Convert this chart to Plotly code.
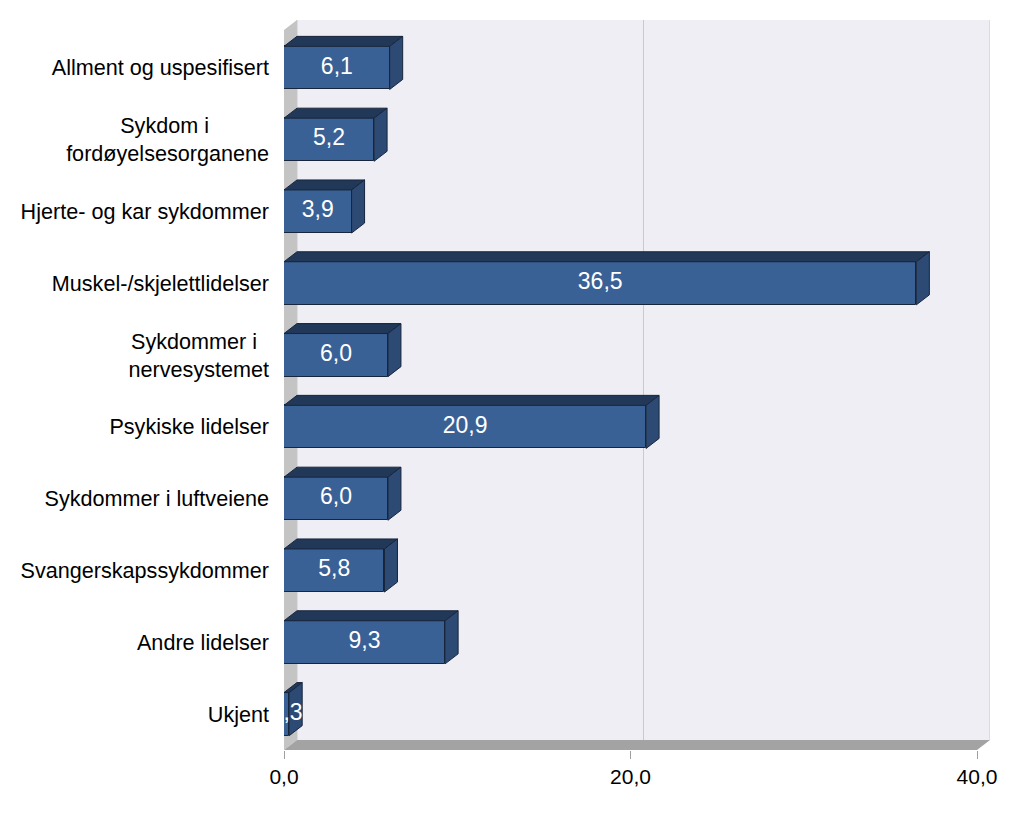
import plotly.graph_objects as go

# ---- data ----
categories = [
    "Allment og uspesifisert",
    "Sykdom i<br>fordøyelsesorganene",
    "Hjerte- og kar sykdommer",
    "Muskel-/skjelettlidelser",
    "Sykdommer i<br>nervesystemet",
    "Psykiske lidelser",
    "Sykdommer i luftveiene",
    "Svangerskapssykdommer",
    "Andre lidelser",
    "Ukjent",
]
values = [6.1, 5.2, 3.9, 36.5, 6.0, 20.9, 6.0, 5.8, 9.3, 0.3]
value_labels = ["6,1", "5,2", "3,9", "36,5", "6,0", "20,9", "6,0", "5,8", "9,3", "0,3"]
x_tickvals = [0, 20, 40]
x_ticktext = ["0,0", "20,0", "40,0"]

# ---- geometry / styling ----
# page has an 8px body margin, so the figure is drawn 8px smaller and offset
W, H = 1016, 813
ML, MR, MT, MB = 276, 34, 12, 71
XMAX_FRONT = 40
px_per_x = 693 / 40.0
plot_w = W - ML - MR
plot_h = H - MT - MB
px_per_y = 71.8
XR = [0, plot_w / px_per_x]
Y_BOTTOM = len(categories) - 0.5
Y_TOP = Y_BOTTOM - plot_h / px_per_y
DX = 13 / px_per_x
DY = 10 / px_per_y
BW = 0.6

FONT = "Arial, Liberation Sans, sans-serif"
FRONT = "#3A6195"
TOP = "#213858"
SIDE = "#2D4A74"
EDGE = "#18263C"
WALL = "#EEEEF4"
SIDEWALL = "#C4C4C4"
FLOOR = "#A3A3A3"
GRID = "#C9C9D0"

n = len(categories)
ypos = list(range(n))

# tick text: pad first line of wrapped labels so the two lines appear centred
pad = {1: 10, 4: 2}
ticktext = []
for i, c in enumerate(categories):
    if "<br>" in c and i in pad:
        a, b = c.split("<br>")
        c = a + "\u00a0" * pad[i] + "<br>" + b
    ticktext.append(c)

fig = go.Figure()

# front faces
fig.add_trace(go.Bar(
    x=values, y=ypos, orientation="h", width=BW,
    marker=dict(color=FRONT, line=dict(color=EDGE, width=1)),
    hoverinfo="skip", showlegend=False,
))

# top and side faces
for i, v in enumerate(values):
    y0 = i - BW / 2
    y1 = i + BW / 2
    fig.add_trace(go.Scatter(
        x=[0, DX, v + DX, v, 0], y=[y0, y0 - DY, y0 - DY, y0, y0],
        fill="toself", fillcolor=TOP, mode="lines",
        line=dict(color=EDGE, width=1), hoverinfo="skip", showlegend=False,
    ))
    fig.add_trace(go.Scatter(
        x=[v, v + DX, v + DX, v, v], y=[y0, y0 - DY, y1 - DY, y1, y0],
        fill="toself", fillcolor=SIDE, mode="lines",
        line=dict(color=EDGE, width=1), hoverinfo="skip", showlegend=False,
    ))

# value labels
fig.add_trace(go.Scatter(
    x=[v / 2 for v in values], y=ypos, text=value_labels, mode="text",
    textfont=dict(family=FONT, size=23, color="white"),
    textposition="middle center", cliponaxis=True,
    hoverinfo="skip", showlegend=False,
))

shapes = []
# back wall
shapes.append(dict(type="rect", xref="x", yref="y", x0=DX, x1=XMAX_FRONT + DX,
                   y0=Y_TOP, y1=Y_BOTTOM - DY, fillcolor=WALL,
                   line=dict(width=0), layer="below"))
# gridlines on back wall
for xv in x_tickvals:
    shapes.append(dict(type="line", xref="x", yref="y", x0=xv + DX, x1=xv + DX,
                       y0=Y_TOP, y1=Y_BOTTOM - DY,
                       line=dict(color=GRID, width=1), layer="below"))
# left side wall
shapes.append(dict(type="path", xref="x", yref="y",
                   path=f"M 0 {Y_TOP + DY} L {DX} {Y_TOP} L {DX} {Y_BOTTOM - DY} L 0 {Y_BOTTOM} Z",
                   fillcolor=SIDEWALL, line=dict(width=0), layer="below"))
# floor
shapes.append(dict(type="path", xref="x", yref="y",
                   path=f"M 0 {Y_BOTTOM} L {DX} {Y_BOTTOM - DY} L {XMAX_FRONT + DX} {Y_BOTTOM - DY} L {XMAX_FRONT} {Y_BOTTOM} Z",
                   fillcolor=FLOOR, line=dict(width=0), layer="below"))

fig.update_layout(
    width=W, height=H,
    margin=dict(l=ML, r=MR, t=MT, b=MB, pad=0),
    paper_bgcolor="white", plot_bgcolor="white",
    font=dict(family=FONT, size=21, color="black"),
    shapes=shapes,
    bargap=0,
    xaxis=dict(range=XR, tickvals=x_tickvals, ticktext=x_ticktext,
               showgrid=False, zeroline=False, showline=False,
               ticks="outside", ticklen=8, tickcolor="#A0A0A0", tickwidth=1,
               tickfont=dict(family=FONT, size=21, color="black"),
               fixedrange=True),
    yaxis=dict(range=[Y_BOTTOM, Y_TOP], tickvals=ypos, ticktext=ticktext,
               showgrid=False, zeroline=False, showline=False,
               ticks="", ticklabelstandoff=14,
               tickfont=dict(family=FONT, size=21.6, color="black"),
               fixedrange=True),
)

fig.write_html("out.html")
